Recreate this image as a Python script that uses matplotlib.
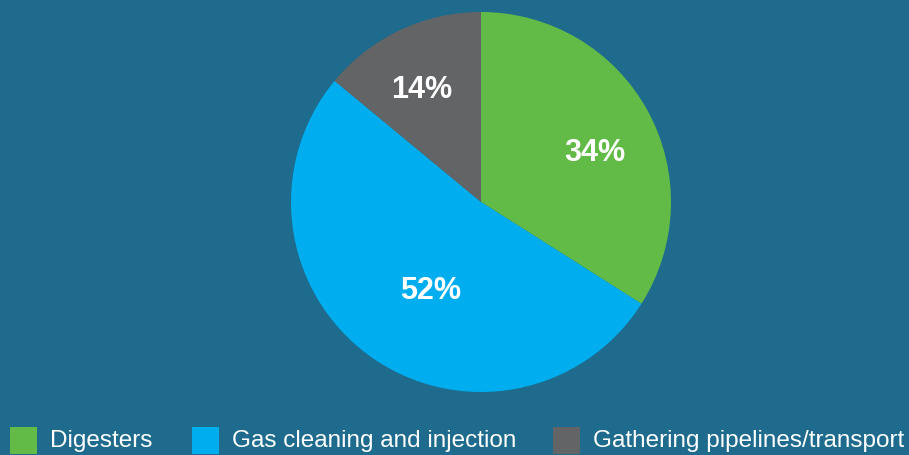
import numpy as np
import matplotlib.pyplot as plt
from matplotlib.patches import Rectangle

categories = ["Digesters", "Gas cleaning and injection", "Gathering pipelines/transport"]
shares = [34, 52, 14]
labels = ["34%", "52%", "14%"]
colors = ["#62bb46", "#00aeef", "#636466"]

bg = "#1e6b8d"
W, H = 909, 456

fig = plt.figure(figsize=(W / 100, H / 100), dpi=100)
fig.patch.set_facecolor(bg)

# pie axes: centre (481, 203) px, radius 190 px
cx, cy, r = 481, 203, 190
ax = fig.add_axes([(cx - r) / W, (H - cy - r) / H, 2 * r / W, 2 * r / H])
ax.set_facecolor(bg)
wedges, _ = ax.pie(shares, colors=colors, startangle=90, counterclock=False,
                   radius=1, wedgeprops=dict(linewidth=0))
ax.set_xlim(-1, 1)
ax.set_ylim(-1, 1)
ax.axis("off")

# percentage labels, placed near each wedge's middle angle
label_r = [0.66, 0.52, 0.69]
label_shift = [-3.7, 5.0, 1.8]
for w, lab, lr, sh in zip(wedges, labels, label_r, label_shift):
    mid = np.deg2rad((w.theta1 + w.theta2) / 2 + sh)
    ax.text(lr * np.cos(mid), lr * np.sin(mid), lab, ha="center",
            va="center_baseline", color="white", fontsize=22,
            fontweight="bold", family="Liberation Sans")

# legend along the bottom
sq_x = [10, 192, 553]
ly = 441
for x, cat, col in zip(sq_x, categories, colors):
    fig.patches.append(Rectangle((x / W, (H - ly - 14) / H), 27 / W, 27 / H,
                                 transform=fig.transFigure, facecolor=col,
                                 edgecolor="none"))
    fig.text((x + 40) / W, (H - ly) / H, cat, ha="left", va="center",
             color="white", fontsize=17.5, family="Liberation Sans")

plt.savefig("out.png", dpi=100, facecolor=bg)
